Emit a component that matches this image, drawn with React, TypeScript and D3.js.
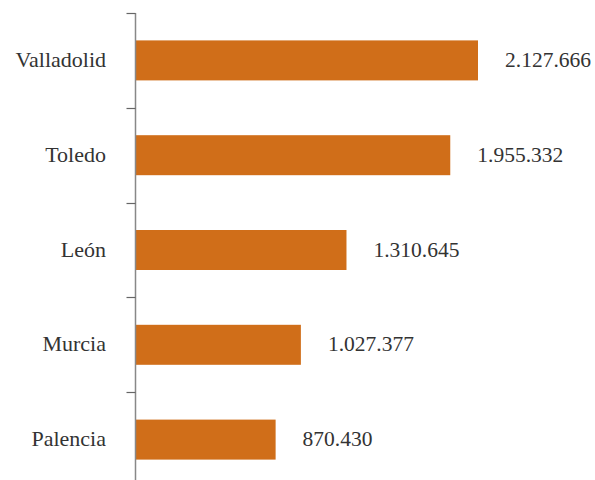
import React from "react";
import * as d3 from "d3";

const categories = ["Valladolid", "Toledo", "León", "Murcia", "Palencia"];
const values = [2127666, 1955332, 1310645, 1027377, 870430];

const W = 595;
const H = 480;
const x0 = 135.5;
const top = 13;
const bottom = 487;

export default function App() {
  const y = d3.scaleBand<string>().domain(categories).range([top, bottom]).padding(0);
  const x = d3.scaleLinear().domain([0, 2127666]).range([x0, 478]);
  const barH = 40;
  const fmt = (v: number) => d3.format(",")(v).replace(/,/g, ".");
  const boundaries = categories.map((c) => y(c) as number);
  return (
    <svg width={W} height={H} style={{ position: "absolute", left: 0, top: 0, background: "#fff" }}>
      {categories.map((c, i) => {
        const cy = (y(c) as number) + y.bandwidth() / 2;
        return (
          <g key={c}>
            <rect x={x0} y={cy - barH / 2} width={x(values[i]) - x0} height={barH} fill="#D06E19" />
            <text
              x={x0 - 29.5}
              y={cy + 6.5}
              textAnchor="end"
              fontSize={22}
              fill="#333"
              fontFamily="Liberation Serif"
              style={{ fontFamily: "'Liberation Serif'" }}
            >
              {c}
            </text>
            <text
              x={x(values[i]) + 27}
              y={cy + 6.5}
              textAnchor="start"
              fontSize={21.5}
              fill="#333"
              fontFamily="Liberation Serif"
              style={{ fontFamily: "'Liberation Serif'" }}
            >
              {fmt(values[i])}
            </text>
          </g>
        );
      })}
      <line x1={x0} x2={x0} y1={top} y2={bottom} stroke="#888" strokeWidth={1.5} />
      {boundaries.map((b, i) => (
        <line key={i} x1={x0 - 9} x2={x0} y1={Math.round(b) + 0.5} y2={Math.round(b) + 0.5} stroke="#666" strokeWidth={1.2} />
      ))}
    </svg>
  );
}
